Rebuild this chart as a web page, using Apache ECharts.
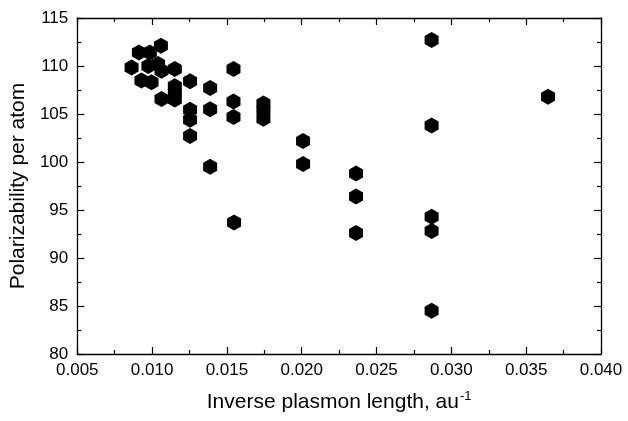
<!DOCTYPE html>
<html>
<head>
<meta charset="utf-8">
<script src="https://cdn.jsdelivr.net/npm/echarts@6/dist/echarts.min.js"></script>
<style>
  html, body { margin: 0; padding: 0; background: #fff; }
  #chart { width: 628px; height: 421px; }
</style>
</head>
<body>
<div id="chart"></div>
<script>
// inverse plasmon length (au^-1) and polarizability per atom
var invLength = [
  0.00863, 0.00912, 0.00985, 0.01059, 0.00929, 0.00996, 0.00975, 0.01040, 0.01063,
  0.01152, 0.01152, 0.01152, 0.01152, 0.01063,
  0.01254, 0.01388, 0.01544, 0.01254, 0.01254, 0.01254, 0.01388, 0.01544, 0.01544,
  0.01744, 0.01744, 0.01744,
  0.01388, 0.01548, 0.02009, 0.02009,
  0.02363, 0.02363, 0.02363,
  0.02868, 0.02868, 0.02868, 0.02868, 0.02868,
  0.03646
];
var polarizability = [
  109.85, 111.4, 111.4, 112.1, 108.5, 108.3, 110.0, 110.2, 109.5,
  109.7, 107.9, 107.2, 106.5, 106.55,
  108.4, 107.7, 109.7, 105.45, 104.4, 102.7, 105.5, 106.3, 104.7,
  106.1, 105.4, 104.5,
  99.5, 93.7, 102.2, 99.8,
  98.8, 96.4, 92.6,
  112.7, 103.8, 94.3, 92.8, 84.5,
  106.8
];
var xTicks = { min: 0.005, max: 0.040, step: 0.005 };
var yTicks = { min: 80, max: 115, step: 5 };

var points = [];
for (var i = 0; i < invLength.length; i++) {
    points.push([invLength[i], polarizability[i]]);
}

var hexagon = 'path://M0,-1 L0.866,-0.5 L0.866,0.5 L0,1 L-0.866,0.5 L-0.866,-0.5 Z';
var fontName = 'Arial, "Liberation Sans", sans-serif';

var lineStyle = { color: '#000', width: 1.3 };
var tickStyle = { show: true, inside: true, length: 7, lineStyle: { color: '#000', width: 1.2 } };
var minorStyle = { show: true, splitNumber: 2, length: 4, lineStyle: { color: '#000', width: 1.2 } };

var myChart = echarts.init(document.getElementById('chart'));
var option = {
    backgroundColor: '#fff',
    animation: false,
    grid: { left: 77, right: 27, top: 18, bottom: 67 },
    xAxis: [{
        type: 'value',
        position: 'bottom',
        min: xTicks.min, max: xTicks.max, interval: xTicks.step,
        name: '{t|Inverse plasmon length, au}{s|-1}',
        nameLocation: 'middle',
        nameGap: 36,
        nameTextStyle: {
            rich: {
                t: { fontFamily: fontName, fontSize: 21, color: '#000' },
                s: { fontFamily: fontName, fontSize: 13, color: '#000', verticalAlign: 'top', padding: [0, 0, 11, 1] }
            }
        },
        axisLine: { show: true, onZero: false, lineStyle: lineStyle },
        axisTick: tickStyle,
        minorTick: minorStyle,
        splitLine: { show: false },
        axisLabel: {
            color: '#000', fontFamily: fontName, fontSize: 17, margin: 8,
            formatter: function (v) { return v.toFixed(3); }
        }
    }, {
        type: 'value',
        position: 'top',
        min: xTicks.min, max: xTicks.max, interval: xTicks.step,
        axisLine: { show: true, onZero: false, lineStyle: lineStyle },
        axisTick: tickStyle,
        minorTick: minorStyle,
        splitLine: { show: false },
        axisLabel: { show: false }
    }],
    yAxis: [{
        type: 'value',
        position: 'left',
        min: yTicks.min, max: yTicks.max, interval: yTicks.step,
        name: 'Polarizability per atom',
        nameLocation: 'middle',
        nameGap: 46,
        nameTextStyle: { fontFamily: fontName, fontSize: 21, color: '#000' },
        axisLine: { show: true, onZero: false, lineStyle: lineStyle },
        axisTick: tickStyle,
        minorTick: minorStyle,
        splitLine: { show: false },
        axisLabel: { color: '#000', fontFamily: fontName, fontSize: 17, margin: 9 }
    }, {
        type: 'value',
        position: 'right',
        min: yTicks.min, max: yTicks.max, interval: yTicks.step,
        axisLine: { show: true, onZero: false, lineStyle: lineStyle },
        axisTick: tickStyle,
        minorTick: minorStyle,
        splitLine: { show: false },
        axisLabel: { show: false }
    }],
    series: [{
        type: 'scatter',
        xAxisIndex: 0,
        yAxisIndex: 0,
        symbol: hexagon,
        symbolSize: [14, 16],
        itemStyle: { color: '#000', opacity: 1 },
        data: points
    }]
};
myChart.setOption(option);
</script>
</body>
</html>
